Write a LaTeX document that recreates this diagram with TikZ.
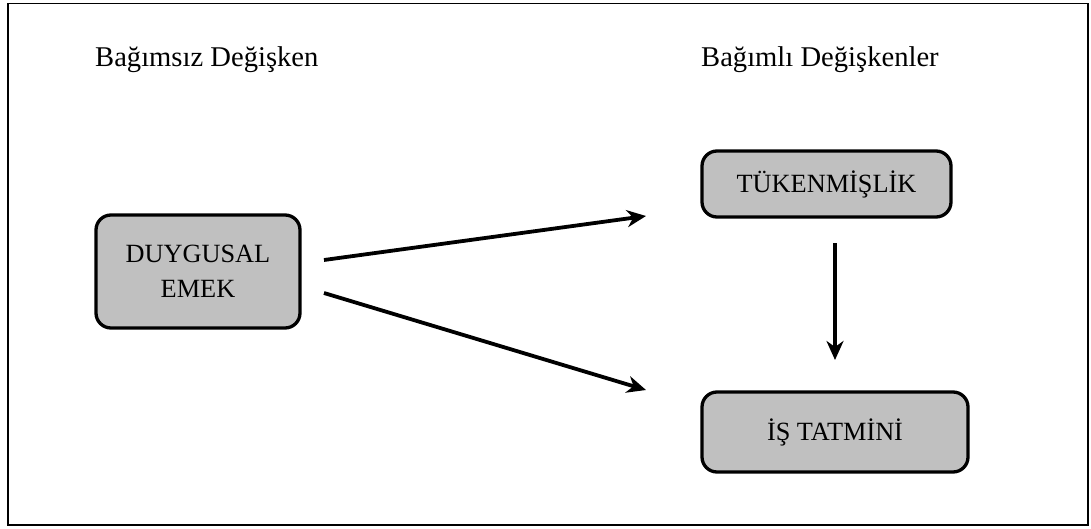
\documentclass[tikz,border=0pt]{standalone}
\usepackage{fontspec}
\setmainfont{Liberation Serif}
\usetikzlibrary{arrows.meta}
\begin{document}
\begin{tikzpicture}[x=1pt,y=-1pt,
  varbox/.style={draw=black, line width=3.3pt, rounded corners=15pt,
    fill=boxgray, inner sep=0pt, align=center,
    font=\fontsize{26.3}{35}\selectfont},
  heading/.style={anchor=base west, inner sep=0pt,
    font=\fontsize{28.6}{34}\selectfont},
  link/.style={line width=3.8pt,
    -{Stealth[length=19pt,width=17pt,inset=6pt]}}]
\definecolor{boxgray}{HTML}{C0C0C0}
\useasboundingbox (0,0) rectangle (1091,529);
% outer frame
\draw[line width=1.5pt] (8,3.5) rectangle (1088,525);

% column headings
\node[heading] (hIndep) at (95,67) {Bağımsız Değişken};
\node[heading] (hDep) at (701,67) {Bağımlı Değişkenler};

% variable boxes
\node[varbox, minimum width=204pt, minimum height=113pt] (emek) at (198,271.5)
  {DUYGUSAL\\EMEK};
\node[varbox, minimum width=249pt, minimum height=66pt] (tuk) at (826.5,184)
  {TÜKENMİŞLİK};
\node[varbox, minimum width=266pt, minimum height=80pt] (tat) at (835,432)
  {İŞ TATMİNİ};

% arrow end points
\coordinate (a1s) at (324,260);
\coordinate (a1e) at (646,216);
\coordinate (a2s) at (324,293);
\coordinate (a2e) at (646,390);
\coordinate (a3s) at (835,243);
\coordinate (a3e) at (835,360);

\draw[link] (a1s) -- (a1e);
\draw[link] (a2s) -- (a2e);
\draw[link] (a3s) -- (a3e);
\end{tikzpicture}
\end{document}
